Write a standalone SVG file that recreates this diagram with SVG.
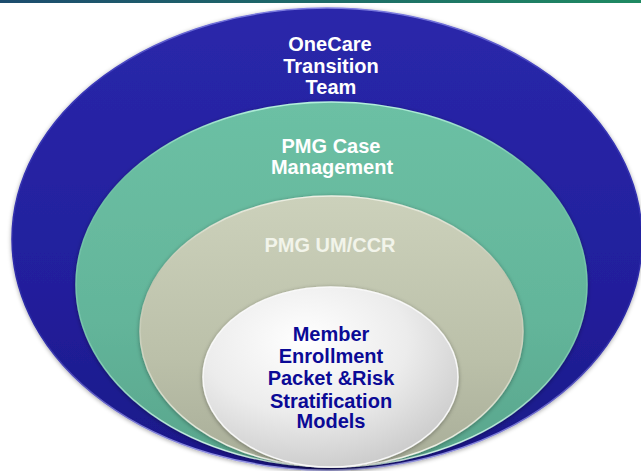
<svg xmlns="http://www.w3.org/2000/svg" width="641" height="471" viewBox="0 0 641 471">
  <defs>
    <linearGradient id="bar" x1="0" y1="0" x2="1" y2="0">
      <stop offset="0" stop-color="#1d4c6e"/>
      <stop offset="1" stop-color="#1f8a62"/>
    </linearGradient>
    <linearGradient id="gBlue" x1="0" y1="0" x2="0" y2="1">
      <stop offset="0" stop-color="#2a27aa"/>
      <stop offset="0.6" stop-color="#221f9c"/>
      <stop offset="1" stop-color="#1b1888"/>
    </linearGradient>
    <linearGradient id="sBlue" x1="0" y1="0" x2="0" y2="1">
      <stop offset="0" stop-color="#7d7de0"/>
      <stop offset="0.15" stop-color="#3a38b8"/>
      <stop offset="0.7" stop-color="#2a28a4"/>
      <stop offset="1" stop-color="#9a9ae8"/>
    </linearGradient>
    <linearGradient id="gGreen" x1="0" y1="0" x2="0" y2="1">
      <stop offset="0" stop-color="#6cc0a4"/>
      <stop offset="0.6" stop-color="#63b59a"/>
      <stop offset="1" stop-color="#58a58c"/>
    </linearGradient>
    <linearGradient id="sGreen" x1="0" y1="0" x2="0" y2="1">
      <stop offset="0" stop-color="#b4f0dc"/>
      <stop offset="0.2" stop-color="#6cc0a4"/>
      <stop offset="0.7" stop-color="#7cc8ae"/>
      <stop offset="1" stop-color="#d8f6ec"/>
    </linearGradient>
    <linearGradient id="gBeige" x1="0" y1="0" x2="0" y2="1">
      <stop offset="0" stop-color="#ccd1bb"/>
      <stop offset="0.6" stop-color="#bbc0a9"/>
      <stop offset="1" stop-color="#a8ad98"/>
    </linearGradient>
    <linearGradient id="sBeige" x1="0" y1="0" x2="0" y2="1">
      <stop offset="0" stop-color="#eceee2"/>
      <stop offset="0.3" stop-color="#c0c4ae"/>
      <stop offset="0.75" stop-color="#d8dccb"/>
      <stop offset="1" stop-color="#f4f6ee"/>
    </linearGradient>
    <radialGradient id="gWhite" cx="0.4" cy="0.3" r="0.8">
      <stop offset="0" stop-color="#ffffff"/>
      <stop offset="0.5" stop-color="#ececec"/>
      <stop offset="1" stop-color="#c4c4c4"/>
    </radialGradient>
    <filter id="sh" x="-10%" y="-10%" width="120%" height="120%">
      <feGaussianBlur in="SourceAlpha" stdDeviation="2"/>
      <feOffset dx="0" dy="1" result="b"/>
      <feFlood flood-color="#000" flood-opacity="0.35"/>
      <feComposite in2="b" operator="in"/>
      <feMerge><feMergeNode/><feMergeNode in="SourceGraphic"/></feMerge>
    </filter>
  </defs>
  <style>
    text { font-family: "Liberation Sans", Arial, sans-serif; font-weight: bold; font-size: 20px; text-anchor: middle; }
    .w { fill: #ffffff; }
    .u { fill: #f2f4ea; }
    .d { fill: #0b0a96; }
  </style>
  <rect x="0" y="0" width="641" height="3" fill="url(#bar)"/>
  <g id="outer">
    <ellipse cx="327" cy="239" rx="315" ry="231" fill="url(#gBlue)" stroke="url(#sBlue)" stroke-width="1.5" filter="url(#sh)"/>
    <text class="w" x="330" y="51">OneCare</text>
    <text class="w" x="331" y="72.7">Transition</text>
    <text class="w" x="331" y="94.3">Team</text>
  </g>
  <g id="case">
    <ellipse cx="331.5" cy="284.5" rx="255.5" ry="182.5" fill="url(#gGreen)" stroke="url(#sGreen)" stroke-width="1.5" filter="url(#sh)"/>
    <text class="w" x="331" y="152.5">PMG Case</text>
    <text class="w" x="332" y="174">Management</text>
  </g>
  <g id="umccr">
    <ellipse cx="331.5" cy="331.5" rx="191.5" ry="135.5" fill="url(#gBeige)" stroke="url(#sBeige)" stroke-width="1.5" filter="url(#sh)"/>
    <text class="u" x="330" y="252.3">PMG UM/CCR</text>
  </g>
  <g id="member">
    <ellipse cx="330.5" cy="377" rx="127.5" ry="90" fill="url(#gWhite)" stroke="#f8f8f8" stroke-width="1.5" filter="url(#sh)"/>
    <text class="d" x="331" y="341">Member</text>
    <text class="d" x="331" y="363.3">Enrollment</text>
    <text class="d" x="331" y="385">Packet &amp;Risk</text>
    <text class="d" x="331" y="407.7">Stratification</text>
    <text class="d" x="331" y="428.3">Models</text>
  </g>
  <g id="connectors"/>
</svg>
